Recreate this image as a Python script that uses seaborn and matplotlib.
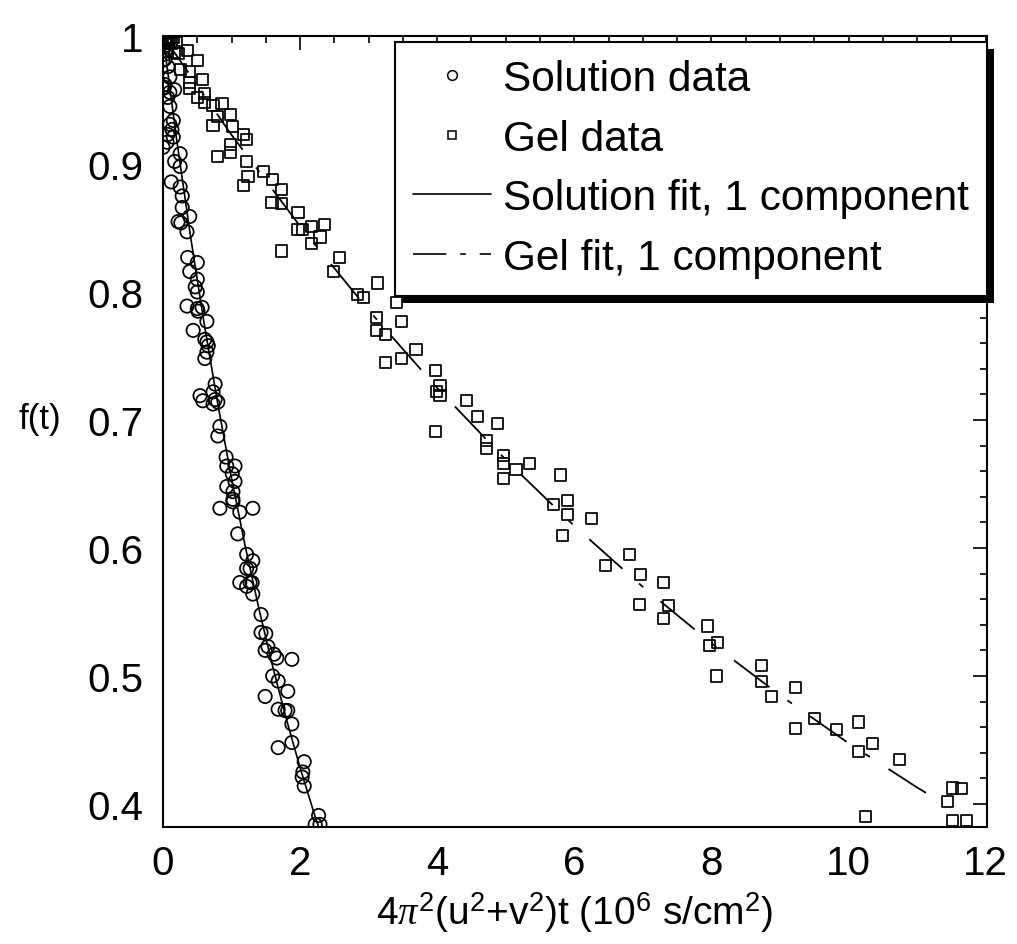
import numpy as np
import pandas as pd
import matplotlib
matplotlib.use("Agg")
import matplotlib.pyplot as plt
import seaborn as sns
from matplotlib.lines import Line2D
from matplotlib.patches import Rectangle
from matplotlib.ticker import MultipleLocator, FixedLocator, FixedFormatter

# ---------------- data ----------------
sol_x = [0.02, 0.06, 0.03, 0.00, 0.03, 0.07, 0.10, 0.03, 0.00, 0.10, 0.17, 0.07, 0.10, 0.02,
         0.15, 0.10, 0.13, 0.07, 0.15, 0.06, 0.00, 0.25, 0.17, 0.25, 0.12, 0.25, 0.28, 0.28,
         0.39, 0.22, 0.26, 0.35, 0.36, 0.50, 0.39, 0.50, 0.47, 0.50, 0.35, 0.50, 0.57, 0.51,
         0.64, 0.44, 0.61, 0.64, 0.66, 0.64, 0.61, 0.76, 0.73, 0.54, 0.58, 0.76, 0.80, 0.73,
         0.83, 0.80, 0.92, 0.93, 1.05, 1.01, 1.05, 0.93, 1.02, 1.02, 1.02, 0.83, 1.31, 1.12,
         1.09, 1.22, 1.31, 1.22, 1.27, 1.12, 1.27, 1.22, 1.31, 1.30, 1.43, 1.43, 1.50, 1.53,
         1.49, 1.62, 1.66, 1.88, 1.60, 1.68, 1.49, 1.82, 1.68, 1.78, 1.82, 1.88, 1.88, 1.68,
         2.06, 2.04, 2.03, 2.06, 2.27, 2.22, 2.29]
sol_y = [0.997, 0.993, 0.988, 0.981, 0.982, 0.976, 0.968, 0.962, 0.959, 0.956, 0.958, 0.952, 0.945, 0.960,
         0.934, 0.931, 0.927, 0.923, 0.921, 0.917, 0.913, 0.908, 0.902, 0.898, 0.886, 0.882, 0.875, 0.866,
         0.859, 0.855, 0.854, 0.847, 0.827, 0.823, 0.816, 0.810, 0.804, 0.800, 0.789, 0.787, 0.788, 0.785,
         0.777, 0.770, 0.763, 0.761, 0.758, 0.753, 0.748, 0.728, 0.722, 0.719, 0.715, 0.716, 0.714, 0.7125,
         0.695, 0.6875, 0.671, 0.664, 0.664, 0.658, 0.652, 0.648, 0.644, 0.638, 0.636, 0.631, 0.631, 0.628,
         0.611, 0.595, 0.590, 0.584, 0.584, 0.573, 0.573, 0.570, 0.564, 0.573, 0.548, 0.534, 0.533, 0.523,
         0.520, 0.517, 0.514, 0.513, 0.500, 0.496, 0.484, 0.488, 0.474, 0.473, 0.473, 0.4625, 0.448, 0.444,
         0.433, 0.425, 0.421, 0.414, 0.391, 0.384, 0.384]

gel_x = [0.03, 0.10, 0.15, 0.07, 0.20, 0.13, 0.06, 0.17, 0.22, 0.36, 0.25, 0.50, 0.39, 0.39,
         0.58, 0.39, 0.61, 0.50, 0.61, 0.73, 0.86, 0.99, 0.80, 0.73, 1.01, 1.18, 1.22, 0.98,
         0.98, 0.79, 1.22, 1.46, 1.60, 1.73, 1.24, 1.17, 1.59, 1.73, 1.97, 1.97, 2.03, 2.17,
         2.36, 2.29, 2.17, 1.73, 2.58, 2.49, 2.84, 2.92, 3.13, 3.41, 3.12, 3.48, 3.12, 3.24,
         3.69, 3.48, 3.24, 3.97, 3.99, 4.04, 4.04, 4.43, 4.59, 4.88, 3.98, 4.72, 4.72, 4.97,
         4.97, 5.15, 5.34, 4.97, 5.80, 5.69, 5.90, 5.90, 6.25, 5.83, 6.81, 6.46, 6.97, 7.30,
         6.95, 7.38, 7.30, 7.94, 7.97, 8.09, 8.08, 8.73, 8.73, 8.88, 9.23, 9.23, 9.50, 9.83,
         10.15, 10.15, 10.35, 10.74, 10.25, 11.45, 11.52, 11.65, 11.52, 11.72]
gel_y = [0.996, 0.998, 0.999, 0.994, 0.995, 0.994, 0.988, 0.9875, 0.986, 0.989, 0.974, 0.981, 0.972, 0.964,
         0.966, 0.959, 0.955, 0.952, 0.948, 0.946, 0.947, 0.939, 0.937, 0.930, 0.929, 0.923, 0.919, 0.915,
         0.909, 0.906, 0.902, 0.894, 0.888, 0.880, 0.890, 0.883, 0.870, 0.869, 0.862, 0.849, 0.849, 0.851,
         0.853, 0.843, 0.838, 0.832, 0.827, 0.816, 0.798, 0.796, 0.807, 0.792, 0.780, 0.777, 0.770, 0.767,
         0.755, 0.748, 0.745, 0.739, 0.722, 0.727, 0.719, 0.715, 0.703, 0.697, 0.691, 0.684, 0.678, 0.672,
         0.666, 0.661, 0.666, 0.654, 0.657, 0.634, 0.637, 0.626, 0.623, 0.610, 0.595, 0.586, 0.579, 0.573,
         0.556, 0.555, 0.545, 0.539, 0.524, 0.526, 0.500, 0.508, 0.496, 0.484, 0.491, 0.459, 0.467, 0.458,
         0.464, 0.441, 0.447, 0.435, 0.390, 0.402, 0.4125, 0.412, 0.387, 0.387]

# single-component fit curves
solfit_x = [0.0, 0.2, 0.4, 0.6, 0.8, 1.0, 1.2, 1.4, 1.6, 1.8, 2.0, 2.2, 2.3]
solfit_y = [1.000, 0.9187, 0.8440, 0.7754, 0.7123, 0.6544, 0.6012, 0.5523, 0.5074, 0.4662, 0.4283, 0.3934, 0.3771]
gelfit_x = [0, 1, 2, 3, 4, 5, 6, 7, 8, 9, 10, 11, 11.35]
gelfit_y = [1.0, 0.9227, 0.8514, 0.7857, 0.7250, 0.6689, 0.6172, 0.5696, 0.5256, 0.4850, 0.4475, 0.4129, 0.4015]

xticks = [0, 2, 4, 6, 8, 10, 12]
xtick_labels = ["0", "2", "4", "6", "8", "10", "12"]
yticks = [0.4, 0.5, 0.6, 0.7, 0.8, 0.9, 1.0]
ytick_labels = ["0.4", "0.5", "0.6", "0.7", "0.8", "0.9", "1"]
legend_labels = ["Solution data", "Gel data", "Solution fit, 1 component", "Gel fit, 1 component"]

sol_df = pd.DataFrame({"x": sol_x, "y": sol_y})
gel_df = pd.DataFrame({"x": gel_x, "y": gel_y})
solfit_df = pd.DataFrame({"x": solfit_x, "y": solfit_y})
gelfit_df = pd.DataFrame({"x": gelfit_x, "y": gelfit_y})

# ---------------- style ----------------
sns.set_style("white")
plt.rcParams["font.family"] = ["Liberation Sans", "DejaVu Sans"]
plt.rcParams["mathtext.fontset"] = "custom"
plt.rcParams["mathtext.rm"] = "Liberation Sans"
plt.rcParams["mathtext.it"] = "Liberation Serif:italic"
plt.rcParams["lines.scale_dashes"] = False
for key in ["text.color", "axes.labelcolor", "xtick.color", "ytick.color", "axes.edgecolor"]:
    plt.rcParams[key] = "black"

fig = plt.figure(figsize=(10.17, 9.45), dpi=100)
ax = fig.add_axes([0.16028, 0.12381, 0.81022, 0.83704])

gel_dash = (0, (32, 16, 4, 16))

sns.lineplot(data=solfit_df, x="x", y="y", ax=ax, color="black", lw=1.2, sort=False,
             estimator=None, zorder=2)
sns.lineplot(data=gelfit_df, x="x", y="y", ax=ax, color="black", lw=1.3, sort=False,
             estimator=None, linestyle=gel_dash, zorder=2)
sns.scatterplot(data=sol_df, x="x", y="y", ax=ax, marker="o", s=92, facecolor="none",
                edgecolor="black", linewidth=1.25, zorder=3)
sns.scatterplot(data=gel_df, x="x", y="y", ax=ax, marker="s", s=64, facecolor="none",
                edgecolor="black", linewidth=1.25, zorder=3)

ax.set_xlim(0, 12.02)
ax.set_ylim(0.382, 1.0)
ax.xaxis.set_major_locator(FixedLocator(xticks))
ax.xaxis.set_major_formatter(FixedFormatter(xtick_labels))
ax.yaxis.set_major_locator(FixedLocator(yticks))
ax.yaxis.set_major_formatter(FixedFormatter(ytick_labels))
ax.xaxis.set_minor_locator(MultipleLocator(0.5))
ax.yaxis.set_minor_locator(MultipleLocator(0.02))
ax.tick_params(which="both", direction="in", top=True, right=True, color="black",
               labelcolor="black", width=1.2)
ax.tick_params(which="major", length=10)
ax.tick_params(which="minor", length=5)
ax.tick_params(axis="x", which="major", labelsize=29, pad=12)
ax.tick_params(axis="y", which="major", labelsize=29, pad=14)
for sp in ax.spines.values():
    sp.set_color("black")
    sp.set_linewidth(1.5)

ax.set_xlabel(r"4$\pi^2$(u$^2$+v$^2$)t (10$^6$ s/cm$^2$)", fontsize=28, labelpad=6, color="black")
ax.set_ylabel("f(t)", fontsize=25, rotation=0, ha="center", va="center", color="black")
ax.yaxis.set_label_coords(-0.149, 0.516)

handles = [
    Line2D([], [], marker="o", ls="none", mfc="none", mec="black", ms=7, mew=1.1),
    Line2D([], [], marker="s", ls="none", mfc="none", mec="black", ms=6.3, mew=1.1),
    Line2D([], [], color="black", lw=1.2),
    Line2D([], [], color="black", lw=1.2, linestyle=(0, (24, 10, 4, 10))),
]
leg = ax.legend(handles, legend_labels, loc="upper right", bbox_to_anchor=(0.9995, 0.993),
                borderaxespad=0.0, fontsize=30.5, frameon=True, fancybox=False,
                handlelength=1.84, handletextpad=0.28, borderpad=0.42, labelspacing=0.46,
                edgecolor="black", framealpha=1.0)
leg.get_frame().set_linewidth(1.5)
for t in leg.get_texts():
    t.set_color("black")
leg.set_zorder(6)

fig.canvas.draw()
bb = leg.get_frame().get_window_extent().transformed(ax.transAxes.inverted())
ox = 7 / (0.81022 * 1017)
oy = 7 / (0.83704 * 945)
shadow = Rectangle((bb.x0 + ox, bb.y0 - oy), bb.width, bb.height, transform=ax.transAxes,
                   facecolor="black", edgecolor="none", clip_on=False, zorder=5.5)
ax.add_patch(shadow)

fig.savefig("out.png", dpi=100)
